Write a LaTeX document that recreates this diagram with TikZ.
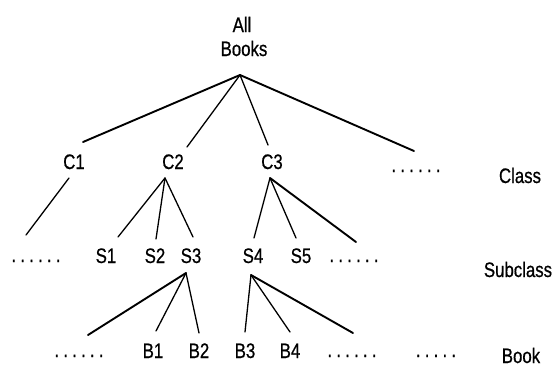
\documentclass[tikz,border=0pt]{standalone}
\usepackage{fontspec}
\setmainfont{Liberation Sans}[FakeStretch=0.8,FakeBold=0.6]
\newcommand{\dotgap}{\kern4.2pt}
\newcommand{\sixdots}{.\dotgap.\dotgap.\dotgap.\dotgap.\dotgap.}
\newcommand{\fivedots}{.\dotgap.\dotgap.\dotgap.\dotgap.}
\begin{document}
\begin{tikzpicture}[x=1pt,y=-1pt,
  lbl/.style={anchor=base,inner sep=0pt,font=\fontsize{21}{25}\selectfont},
  edge/.style={line width=1.3pt,line cap=round},
  thick edge/.style={line width=1.9pt,line cap=round}]
\useasboundingbox[fill=white] (0,0) rectangle (556,367);

% root
\node[lbl] (all) at (242,32) {All};
\node[lbl] (books) at (244,56) {Books};

% class level
\node[lbl] (c1) at (74,169) {C1};
\node[lbl] (c2) at (173,169) {C2};
\node[lbl] (c3) at (272,169) {C3};
\node[lbl] (cx) at (416,172) {\sixdots};
\node[lbl] (class) at (520,183) {Class};

% subclass level
\node[lbl] (sx) at (36,262) {\sixdots};
\node[lbl] (s1) at (106,263) {S1};
\node[lbl] (s2) at (155,263) {S2};
\node[lbl] (s3) at (191,263) {S3};
\node[lbl] (s4) at (253,263) {S4};
\node[lbl] (s5) at (301,263) {S5};
\node[lbl] (sy) at (354,262) {\sixdots};
\node[lbl] (subclass) at (518,277) {Subclass};

% book level
\node[lbl] (bx) at (79,357) {\sixdots};
\node[lbl] (b1) at (153,358) {B1};
\node[lbl] (b2) at (199,358) {B2};
\node[lbl] (b3) at (245,358) {B3};
\node[lbl] (b4) at (290,358) {B4};
\node[lbl] (by) at (352,357) {\sixdots};
\node[lbl] (bz) at (436,357) {\fivedots};
\node[lbl] (book) at (521,363) {Book};

% branch points and line ends
\coordinate (rootfork) at (240,75);
\coordinate (c1top) at (83,142);
\coordinate (c2top) at (187,147);
\coordinate (c3top) at (268,145);
\coordinate (cxtop) at (414,151);

\coordinate (c1fork) at (69,178);
\coordinate (sxtop) at (26,235);
\coordinate (c2fork) at (165,178);
\coordinate (s1top) at (118,237);
\coordinate (s2top) at (156,239);
\coordinate (s3top) at (193,237);
\coordinate (c3fork) at (270,178);
\coordinate (s4top) at (254,238);
\coordinate (s5top) at (296,238);
\coordinate (sytop) at (356,242);

\coordinate (s3fork) at (186,273);
\coordinate (bxtop) at (88,335);
\coordinate (b1top) at (156,331);
\coordinate (b2top) at (199,333);
\coordinate (s4fork) at (251,275);
\coordinate (b3top) at (245,332);
\coordinate (b4top) at (290,332);
\coordinate (bytop) at (353,333);

% connectors
\draw[thick edge] (rootfork) -- (c1top);
\draw[edge] (rootfork) -- (c2top);
\draw[edge] (rootfork) -- (c3top);
\draw[thick edge] (rootfork) -- (cxtop);

\draw[edge] (c1fork) -- (sxtop);
\draw[edge] (c2fork) -- (s1top);
\draw[edge] (c2fork) -- (s2top);
\draw[edge] (c2fork) -- (s3top);
\draw[edge] (c3fork) -- (s4top);
\draw[edge] (c3fork) -- (s5top);
\draw[thick edge] (c3fork) -- (sytop);

\draw[thick edge] (s3fork) -- (bxtop);
\draw[edge] (s3fork) -- (b1top);
\draw[edge] (s3fork) -- (b2top);
\draw[edge] (s4fork) -- (b3top);
\draw[edge] (s4fork) -- (b4top);
\draw[thick edge] (s4fork) -- (bytop);
\end{tikzpicture}
\end{document}
